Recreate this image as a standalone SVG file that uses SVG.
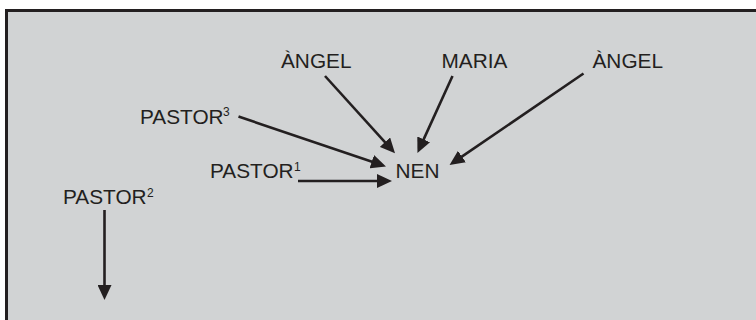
<svg xmlns="http://www.w3.org/2000/svg" width="756" height="320" viewBox="0 0 756 320">
<style>
.lbl{font-family:"Liberation Sans",Arial,sans-serif;font-size:20.8px;fill:#231f20}
.sup{font-family:"Liberation Sans",Arial,sans-serif;font-size:12px;fill:#231f20}
.edge{stroke:#231f20;stroke-width:2.6;fill:none;marker-end:url(#ah)}
</style>
<defs>
<marker id="ah" markerUnits="userSpaceOnUse" viewBox="0 0 15 14" markerWidth="15" markerHeight="14" refX="5" refY="7" orient="auto">
<path d="M0,0 L15,7 L0,14 z" fill="#231f20"/>
</marker>
</defs>
<rect x="0" y="0" width="756" height="320" fill="#ffffff"/>
<rect x="6.5" y="10.5" width="760" height="320" fill="#d1d3d4" stroke="#231f20" stroke-width="3"/>
<g id="connectors">
<line class="edge" x1="325" y1="76" x2="388.3" y2="145.9"/>
<line class="edge" x1="452.5" y1="76" x2="421.6" y2="143.9"/>
<line class="edge" x1="583.5" y1="73.5" x2="457.8" y2="159.4"/>
<line class="edge" x1="238.5" y1="116.5" x2="376.5" y2="163.3"/>
<line class="edge" x1="298" y1="181" x2="382" y2="181"/>
<line class="edge" x1="104.5" y1="210" x2="104.5" y2="290"/>
</g>
<g id="angel1"><text class="lbl" x="281" y="67.5">ÀNGEL</text></g>
<g id="maria"><text class="lbl" x="441.5" y="67.5">MARIA</text></g>
<g id="angel2"><text class="lbl" x="592.5" y="67.5">ÀNGEL</text></g>
<g id="pastor3"><text class="lbl" x="140" y="123.5">PASTOR</text><text class="sup" x="223" y="115.5">3</text></g>
<g id="pastor1"><text class="lbl" x="210" y="178">PASTOR</text><text class="sup" x="294" y="170.5">1</text></g>
<g id="nen"><text class="lbl" x="395.5" y="177.5">NEN</text></g>
<g id="pastor2"><text class="lbl" x="63" y="204">PASTOR</text><text class="sup" x="147" y="197">2</text></g>
</svg>
